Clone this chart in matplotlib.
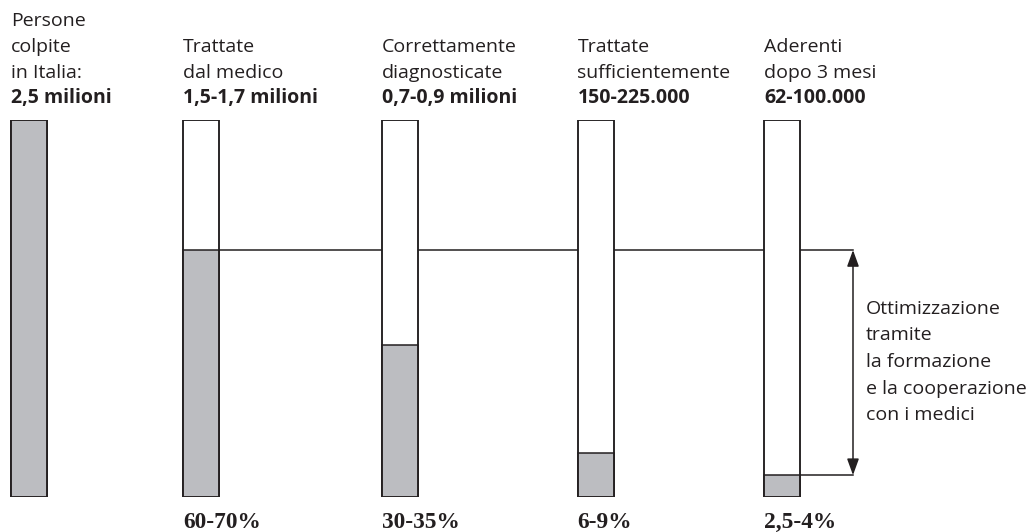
import matplotlib.pyplot as plt

# data
headers = [
    ["Persone", "colpite", "in Italia:"],
    ["Trattate", "dal medico"],
    ["Correttamente", "diagnosticate"],
    ["Trattate", "sufficientemente"],
    ["Aderenti", "dopo 3 mesi"],
]
counts = ["2,5 milioni", "1,5-1,7 milioni", "0,7-0,9 milioni", "150-225.000", "62-100.000"]
shares = [100, 65.5, 40.3, 11.7, 5.8]          # gray height, % of full bar
pct_labels = ["", "60-70%", "30-35%", "6-9%", "2,5-4%"]
note = ["Ottimizzazione", "tramite", "la formazione", "e la cooperazione", "con i medici"]

# layout (pixels)
W, H = 1033, 532
bar_x = [29, 201, 400, 595.5, 782]
bar_w = 36
arrow_x = 853
gray = "#bcbdc1"
ink = "#231f20"

fig = plt.figure(figsize=(W / 100, H / 100), dpi=100)
ax = fig.add_axes([0, (H - 497) / H, 1, 377 / H])
ax.set_xlim(0, W)
ax.set_ylim(0, 100)
ax.axis("off")

# full-height outline bars and the gray share
ax.bar(bar_x, [100] * len(bar_x), width=bar_w, color="white", edgecolor=ink, linewidth=1.1, zorder=3)
ax.bar(bar_x, shares, width=bar_w, color=gray, edgecolor=ink, linewidth=1.1, zorder=4)
ax.bar(bar_x, [100] * len(bar_x), width=bar_w, fill=False, edgecolor=ink, linewidth=1.1, zorder=5)

# reference lines and the double arrow
ax.plot([bar_x[1] + bar_w / 2, arrow_x], [shares[1]] * 2, color=ink, lw=1.1, zorder=1)
ax.plot([bar_x[4] + bar_w / 2, arrow_x], [shares[4]] * 2, color=ink, lw=1.1, zorder=1)
ax.annotate("", xy=(arrow_x, shares[4]), xytext=(arrow_x, shares[1]),
            arrowprops=dict(arrowstyle="<|-|>,head_length=0.55,head_width=0.2", color=ink, lw=1.1,
                            mutation_scale=18, shrinkA=0, shrinkB=0))

sans = "Open Sans"
fs = 14
step = 25.5

def ftext(px, py, s, **kw):
    fig.text(px / W, 1 - py / H, s, color=ink, va="baseline", ha="left", **kw)

for i, lines in enumerate(headers):
    x0 = bar_x[i] - bar_w / 2
    base = 103 - step * len(lines)
    for j, line in enumerate(lines):
        ftext(x0, base + step * j, line, family=sans, fontsize=fs)
    ftext(x0, 103, counts[i], family=sans, fontsize=fs, fontweight="bold")
    if pct_labels[i]:
        ftext(x0, 528, pct_labels[i], family="Liberation Serif", fontsize=16.8, fontweight="bold")

for j, line in enumerate(note):
    ftext(866, 314 + 26.5 * j, line, family=sans, fontsize=fs)

fig.savefig("out.png", dpi=100, facecolor="white")
